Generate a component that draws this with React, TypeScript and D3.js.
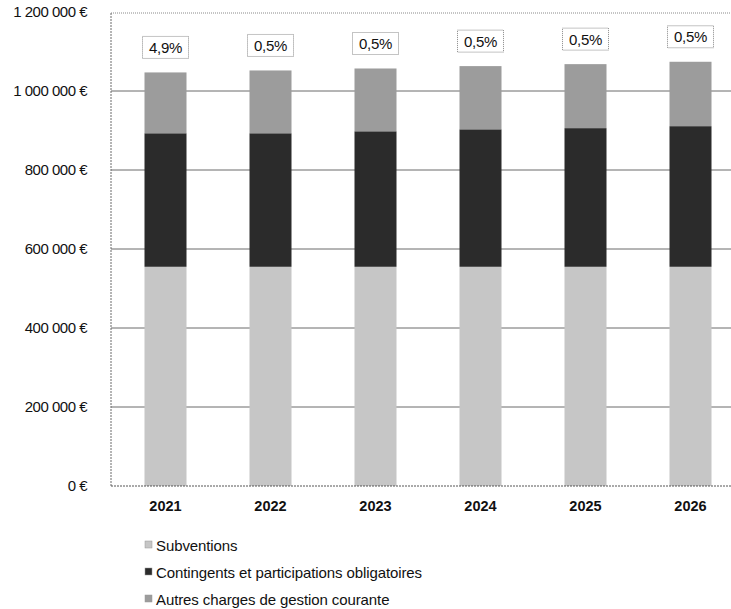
import React from "react";
import * as d3 from "d3";

const years = ["2021", "2022", "2023", "2024", "2025", "2026"];
const subventions = [555000, 555000, 555000, 555000, 555000, 555000];
const contingents = [338000, 338000, 343000, 348000, 351000, 356000];
const autres = [154000, 159000, 159000, 160000, 162000, 163000];
const growthLabels = ["4,9%", "0,5%", "0,5%", "0,5%", "0,5%", "0,5%"];
const yTicks = [0, 200000, 400000, 600000, 800000, 1000000, 1200000];
const seriesNames = [
  "Subventions",
  "Contingents et participations obligatoires",
  "Autres charges de gestion courante",
];
const seriesColors = ["#c6c6c6", "#2b2b2b", "#9c9c9c"];

const W = 731;
const H = 609;
const left = 111;
const top = 12;
const bottom = 486;

function fmt(v: number) {
  const s = d3.format(",")(v).replace(/,/g, " ");
  return s + " €";
}

export default function App() {
  const x = d3.scaleBand<string>().domain(years).range([113, 743]).paddingInner(0.6).paddingOuter(0.3);
  const y = d3.scaleLinear().domain([0, 1200000]).range([bottom, top]);

  const table = years.map((yr, i) => ({
    year: yr,
    s0: subventions[i],
    s1: contingents[i],
    s2: autres[i],
  }));
  const stack = d3.stack<any>().keys(["s0", "s1", "s2"])(table);
  const font = "Arial, 'Liberation Sans', sans-serif";

  return (
    <svg width={W} height={H} style={{ position: "absolute", left: 0, top: 0, background: "#fff" }} fontFamily={font}>
      <rect x={0} y={0} width={W} height={H} fill="#fff" />
      {yTicks.slice(1, -1).map((t) => (
        <line key={t} x1={left} x2={W} y1={y(t)} y2={y(t)} stroke="#6a6a6a" strokeWidth={1} />
      ))}
      <line x1={left} x2={W} y1={y(1200000) + 1} y2={y(1200000) + 1} stroke="#8a8a8a" strokeWidth={1} strokeDasharray="1 1" />
      <line x1={left} x2={left} y1={y(1200000) + 1} y2={bottom} stroke="#6a6a6a" strokeWidth={1} strokeDasharray="2 1" />
      {stack.map((layer, li) =>
        layer.map((d: any, i: number) => (
          <rect
            key={li + "-" + i}
            x={x(years[i])!}
            width={x.bandwidth()}
            y={y(d[1])}
            height={y(d[0]) - y(d[1])}
            fill={seriesColors[li]}
          />
        ))
      )}
      <line x1={left} x2={W} y1={bottom} y2={bottom} stroke="#555" strokeWidth={1} strokeDasharray="2 1" />
      {years.map((yr, i) => {
        const total = subventions[i] + contingents[i] + autres[i];
        const cx = x(yr)! + x.bandwidth() / 2;
        const by = y(total) - 14;
        return (
          <g key={yr}>
            <rect x={cx - 23} y={by - 22} width={46} height={22} fill="#fff" stroke="#888" strokeWidth={1} strokeDasharray="1 1" />
            <text x={cx} y={by - 5.5} textAnchor="middle" fontSize={15} letterSpacing={-0.3} fill="#111">
              {growthLabels[i]}
            </text>
          </g>
        );
      })}
      {yTicks.map((t) => (
        <text key={t} x={87} y={y(t) + 5} textAnchor="end" fontSize={15} letterSpacing={-0.5} fill="#111">
          {fmt(t)}
        </text>
      ))}
      {years.map((yr) => (
        <text key={yr} x={x(yr)! + x.bandwidth() / 2} y={511} textAnchor="middle" fontSize={14.5} fontWeight="bold" fill="#111">
          {yr}
        </text>
      ))}
      {seriesNames.map((n, i) => (
        <g key={n}>
          <rect x={145} y={541 + i * 27} width={7} height={7} fill={seriesColors[i]} stroke="#999" strokeWidth={0.5} />
          <text x={156} y={550.5 + i * 27} fontSize={15} letterSpacing={-0.1} fill="#111">
            {n}
          </text>
        </g>
      ))}
    </svg>
  );
}
